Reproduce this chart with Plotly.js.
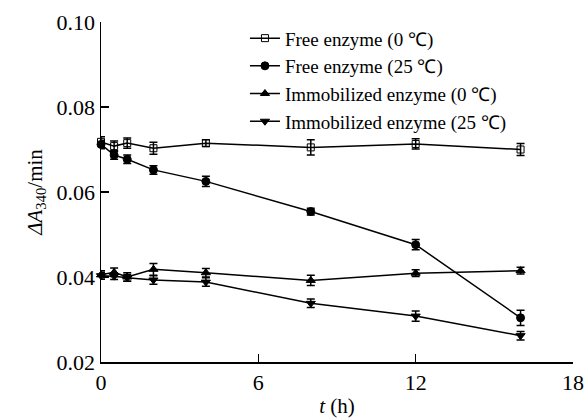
<!DOCTYPE html>
<html>
<head>
<meta charset="utf-8">
<script src="https://cdn.plot.ly/plotly-3.0.1.min.js"></script>
<style>html,body{margin:0;padding:0;background:#fff;}#chart{width:587px;height:418px;}</style>
</head>
<body>
<div id="chart"></div>
<script>
const timeH = [0, 0.5, 1, 2, 4, 8, 12, 16];
const seriesNames = ["Free enzyme (0 \u2103)", "Free enzyme (25 \u2103)", "Immobilized enzyme (0 \u2103)", "Immobilized enzyme (25 \u2103)"];
const free0 = [0.0718, 0.0708, 0.0715, 0.0703, 0.0715, 0.0705, 0.0713, 0.0700];
const free25 = [0.0712, 0.0687, 0.0677, 0.0652, 0.0625, 0.0554, 0.0476, 0.0304];
const imm0 = [0.0405, 0.0411, 0.0400, 0.0418, 0.0410, 0.0392, 0.0409, 0.0415];
const imm25 = [0.0403, 0.0402, 0.0398, 0.0393, 0.0388, 0.0338, 0.0308, 0.0262];
const free0Err = [0.0012, 0.0012, 0.0012, 0.0014, 0.0008, 0.0018, 0.0012, 0.0014];
const free25Err = [0.0010, 0.0010, 0.0010, 0.0010, 0.0012, 0.0008, 0.0012, 0.0018];
const imm0Err = [0.0010, 0.0010, 0.0010, 0.0014, 0.0010, 0.0012, 0.0008, 0.0008];
const imm25Err = [0.0008, 0.0008, 0.0008, 0.0010, 0.0010, 0.0010, 0.0012, 0.0010];

const values = [free0, free25, imm0, imm25];
const errs = [free0Err, free25Err, imm0Err, imm25Err];
const symbols = ["square-open", "circle", "triangle-up", "triangle-down"];

const traces = values.map((v, i) => ({
  x: timeH, y: v, name: seriesNames[i], type: "scatter", mode: "lines+markers",
  line: {color: "#000", width: 1.5},
  marker: {symbol: symbols[i], size: i === 0 ? 7 : 8, color: "#000", line: {color: "#000", width: 1}},
  error_y: {type: "data", array: errs[i], visible: true, color: "#000", thickness: 1.5, width: 4},
  cliponaxis: false
}));

const FAM = "Liberation Serif";
const layout = {
  width: 587, height: 418,
  margin: {l: 101, r: 14, t: 22, b: 56},
  paper_bgcolor: "#fff", plot_bgcolor: "#fff",
  font: {family: FAM, size: 18, color: "#000"},
  showlegend: true,
  legend: {x: 0.305, y: 1.008, xanchor: "left", yanchor: "top", bgcolor: "rgba(0,0,0,0)",
    font: {family: FAM, size: 19, color: "#000"}, tracegroupgap: 0, itemwidth: 30},
  xaxis: {range: [0, 18], tickvals: [0, 6, 12, 18], ticktext: ["0", "6", "12", "18"],
    ticks: "inside", ticklen: 8, tickwidth: 1.5, tickcolor: "#000",
    showline: true, linecolor: "#000", linewidth: 1.5, showgrid: false, zeroline: false,
    tickfont: {family: FAM, size: 22, color: "#000"},
    title: {text: "<i>t</i> (h)", font: {family: FAM, size: 21, color: "#000"}, standoff: 4}},
  yaxis: {range: [0.02, 0.10], tickvals: [0.02, 0.04, 0.06, 0.08, 0.10], ticktext: ["0.02", "0.04", "0.06", "0.08", "0.10"],
    ticks: "inside", ticklen: 8, tickwidth: 1.5, tickcolor: "#000",
    showline: true, linecolor: "#000", linewidth: 1.5, showgrid: false, zeroline: false,
    tickfont: {family: FAM, size: 22, color: "#000"},
    title: {text: "<i>\u0394A</i><sub>340</sub>/min", font: {family: FAM, size: 21, color: "#000"}, standoff: 8}}
};

Plotly.newPlot("chart", traces, layout, {staticPlot: true, displayModeBar: false});
</script>
</body>
</html>
